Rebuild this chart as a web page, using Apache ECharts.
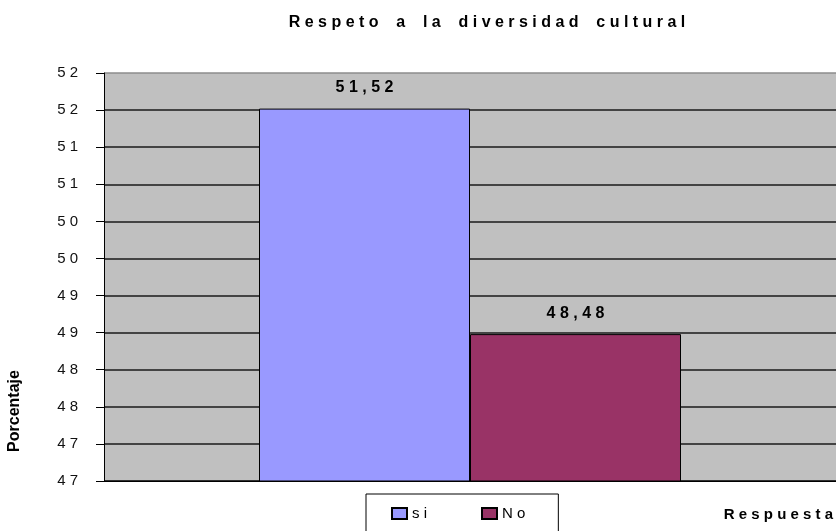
<!DOCTYPE html>
<html>
<head>
<meta charset="utf-8">
<script src="https://cdn.jsdelivr.net/npm/echarts@6/dist/echarts.min.js"></script>
<style>
    html, body { margin: 0; padding: 0; background: #fff; }
    #main { width: 836px; height: 531px; }
</style>
</head>
<body>
<div id="main"></div>
<script>
// datos del gráfico
const categories = ['Respuesta'];
const seriesNames = ['si', 'No'];
const siValues = [51.52];
const noValues = [48.48];
const seriesColors = ['#9999FF', '#993366'];
// eje Y
const yMin = 46.5;
const yMax = 52;
const yStep = 0.5;

const FONT = '"Liberation Sans", Arial, sans-serif';

// separa las letras como en el original de Excel
const spaced = (str, wordSep) => str.split(' ').map(w => w.split('').join(' ')).join(wordSep || '    ');

const chartDom = document.getElementById('main');
const myChart = echarts.init(chartDom);

const option = {
    animation: false,
    title: [
        {
            text: spaced('Respeto a la diversidad cultural'),
            left: 487,
            top: 15,
            padding: 0,
            textAlign: 'center',
            textStyle: { fontFamily: FONT, fontSize: 16, fontWeight: 'bold', color: '#000' }
        },
        {
            text: spaced('Respuesta'),
            right: 3,
            top: 507,
            padding: 0,
            textStyle: { fontFamily: FONT, fontSize: 15, fontWeight: 'bold', color: '#000' }
        }
    ],
    graphic: [
        {
            type: 'text',
            x: 15,
            y: 411,
            rotation: Math.PI / 2,
            style: {
                text: 'Porcentaje',
                font: 'bold 16px ' + FONT,
                fill: '#000',
                align: 'center',
                verticalAlign: 'middle'
            }
        }
    ],
    legend: {
        data: seriesNames,
        left: 366,
        top: 494,
        padding: [12, 33, 12, 25],
        itemGap: 54,
        itemWidth: 15,
        itemHeight: 11,
        icon: 'rect',
        borderColor: '#000',
        borderWidth: 1,
        backgroundColor: '#fff',
        borderRadius: 0,
        formatter: (name) => spaced(name),
        textStyle: { fontFamily: FONT, fontSize: 15, color: '#000' }
    },
    grid: {
        left: 104,
        right: 0,
        top: 73,
        bottom: 50,
        show: true,
        backgroundColor: '#C0C0C0',
        borderWidth: 0
    },
    xAxis: {
        type: 'category',
        data: categories,
        axisLine: { lineStyle: { color: '#000', width: 1 } },
        axisTick: { show: false },
        axisLabel: { show: false }
    },
    yAxis: {
        type: 'value',
        min: yMin,
        max: yMax,
        interval: yStep,
        axisLine: { show: true, lineStyle: { color: '#000', width: 1 } },
        axisTick: { show: true, inside: false, length: 8, lineStyle: { color: '#000' } },
        axisLabel: {
            margin: 26,
            fontFamily: FONT,
            fontSize: 15,
            color: '#111',
            formatter: (v) => spaced(String(Math.round(v)))
        },
        splitLine: {
            show: true,
            lineStyle: {
                color: ['#000', '#1a1a1a', '#1a1a1a', '#1a1a1a', '#1a1a1a', '#1a1a1a',
                    '#1a1a1a', '#1a1a1a', '#1a1a1a', '#1a1a1a', '#1a1a1a', '#8c8c8c'],
                width: 1.5
            }
        }
    },
    series: [siValues, noValues].map((data, index) => {
        return {
            name: seriesNames[index],
            type: 'bar',
            data: data,
            barWidth: 211,
            barGap: '0%',
            itemStyle: {
                color: seriesColors[index],
                borderColor: '#000',
                borderWidth: 1
            },
            label: {
                show: true,
                position: 'top',
                distance: 13,
                fontFamily: FONT,
                fontSize: 16,
                fontWeight: 'bold',
                color: '#000',
                formatter: (p) => spaced(p.value.toFixed(2).replace('.', ','))
            }
        }
    })
};

option && myChart.setOption(option);
</script>
</body>
</html>
